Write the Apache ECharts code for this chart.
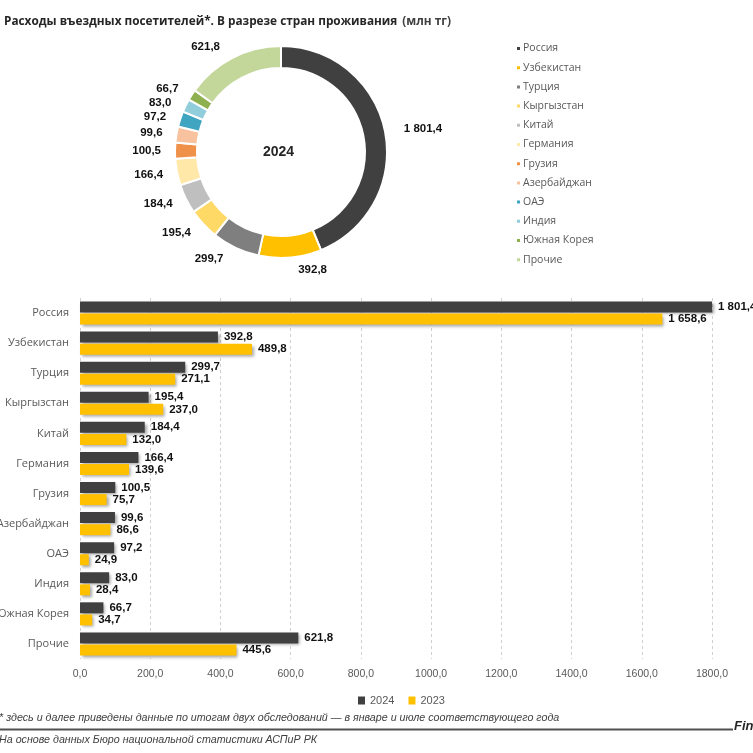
<!DOCTYPE html>
<html><head><meta charset="utf-8">
<script src="https://cdn.jsdelivr.net/npm/echarts@6/dist/echarts.min.js"></script>
<style>html,body{margin:0;padding:0;background:#fff}#c{width:753px;height:753px}</style>
</head><body><div id="c"></div>
<script>
const categories = ['Россия','Узбекистан','Турция','Кыргызстан','Китай','Германия','Грузия','Азербайджан','ОАЭ','Индия','Южная Корея','Прочие'];
const values2024 = [1801.4,392.8,299.7,195.4,184.4,166.4,100.5,99.6,97.2,83.0,66.7,621.8];
const values2023 = [1658.6,489.8,271.1,237.0,132.0,139.6,75.7,86.6,24.9,28.4,34.7,445.6];
const seriesNames = ['2024','2023'];
const pieColors = ['#404040','#FFC000','#7F7F7F','#FFD966','#BFBFBF','#FFE8A8','#F0914A','#F8C29F','#3FA5C0','#92CDDC','#8FB04F','#C4D79B'];
const barColors = ['#404040','#FFC000'];

function fmt(v){
  const s = v.toFixed(1).split('.');
  return s[0].replace(/\B(?=(\d{3})+(?!\d))/g,' ') + ',' + s[1];
}
const FONT = 'Liberation Sans, sans-serif';

const chart = echarts.init(document.getElementById('c'), null, {renderer:'canvas'});
chart.setOption({
  animation:false,
  textStyle:{fontFamily:FONT},
  title:{
    left:-1, top:8,
    text:'{b|Расходы въездных посетителей*. В разрезе стран проживания} {n|(млн тг)}',
    textStyle:{rich:{
      b:{fontFamily:'Open Sans',fontWeight:'bold',fontSize:11.8,color:'#262626'},
      n:{fontFamily:'Open Sans',fontSize:11.8,color:'#404040'}
    }}
  },
  legend:[{
    orient:'vertical', left:510, top:38, icon:'rect',
    itemWidth:5, itemHeight:5, itemGap:8.2,
    textStyle:{fontFamily:'Open Sans',fontSize:10.5,color:'#595959',padding:[0,0,0,-3]},
    data:categories
  },{
    orient:'horizontal', left:353, top:690, icon:'rect',
    itemWidth:7, itemHeight:8, itemGap:14,
    textStyle:{fontFamily:FONT,fontSize:11,color:'#595959'},
    data:seriesNames
  }],
  grid:{left:80,right:41,top:298,bottom:94,containLabel:false,outerBoundsMode:'none'},
  xAxis:{
    type:'value', min:0, max:1800, interval:200,
    axisLine:{show:false}, axisTick:{show:false},
    splitLine:{show:true,lineStyle:{type:[3,3],color:'#D0D0D0'}},
    axisLabel:{color:'#595959',fontSize:10.5,margin:10,formatter:v=>v.toFixed(1).replace('.',',')}
  },
  yAxis:{
    type:'category', data:categories, inverse:true,
    axisLine:{show:false}, axisTick:{show:false},
    axisLabel:{color:'#595959',fontSize:11,margin:11,fontFamily:'Open Sans'}
  },
  series:[
    {type:'bar', name:seriesNames[0], data:values2024, barWidth:11, barGap:'10%',
     itemStyle:{color:barColors[0],shadowColor:'rgba(0,0,0,0.35)',shadowBlur:3,shadowOffsetX:2,shadowOffsetY:2},
     label:{show:true,position:'right',distance:6,fontWeight:'bold',fontSize:11.5,color:'#111',formatter:p=>fmt(p.value),fontFamily:FONT}},
    {type:'bar', name:seriesNames[1], data:values2023, barWidth:11, barGap:'10%',
     itemStyle:{color:barColors[1],shadowColor:'rgba(0,0,0,0.35)',shadowBlur:3,shadowOffsetX:2,shadowOffsetY:2},
     label:{show:true,position:'right',distance:6,fontWeight:'bold',fontSize:11.5,color:'#111',formatter:p=>fmt(p.value),fontFamily:FONT}},
    {type:'pie', center:[281,152], radius:[84,106], startAngle:90, clockwise:true,
     color:pieColors,
     itemStyle:{borderColor:'#fff',borderWidth:2},
     label:{show:true,position:'outside',fontWeight:'bold',fontSize:11.5,color:'#111',formatter:p=>fmt(p.value),fontFamily:FONT},
     labelLine:{show:false,length:12,length2:2},
     emphasis:{disabled:true},
     data:categories.map((c,i)=>({name:c,value:values2024[i]}))}
  ],
  graphic:[
    {type:'text',left:263,top:145,style:{text:'2024',font:'bold 14px '+FONT,fill:'#262626'}},
    {type:'text',left:-1,top:713,style:{text:'* здесь и далее приведены данные по итогам двух обследований — в январе и июле соответствующего года',font:'italic 10.7px '+FONT,fill:'#404040'}},
    {type:'rect',shape:{x:0,y:728.5,width:733,height:2},style:{fill:'#505050'}},
    {type:'text',left:734,top:720,style:{text:'Finprom',font:'bold italic 13px '+FONT,fill:'#262626'}},
    {type:'text',left:-1,top:735,style:{text:'На основе данных Бюро национальной статистики АСПиР РК',font:'italic 10.7px '+FONT,fill:'#404040'}}
  ]
});
</script></body></html>
